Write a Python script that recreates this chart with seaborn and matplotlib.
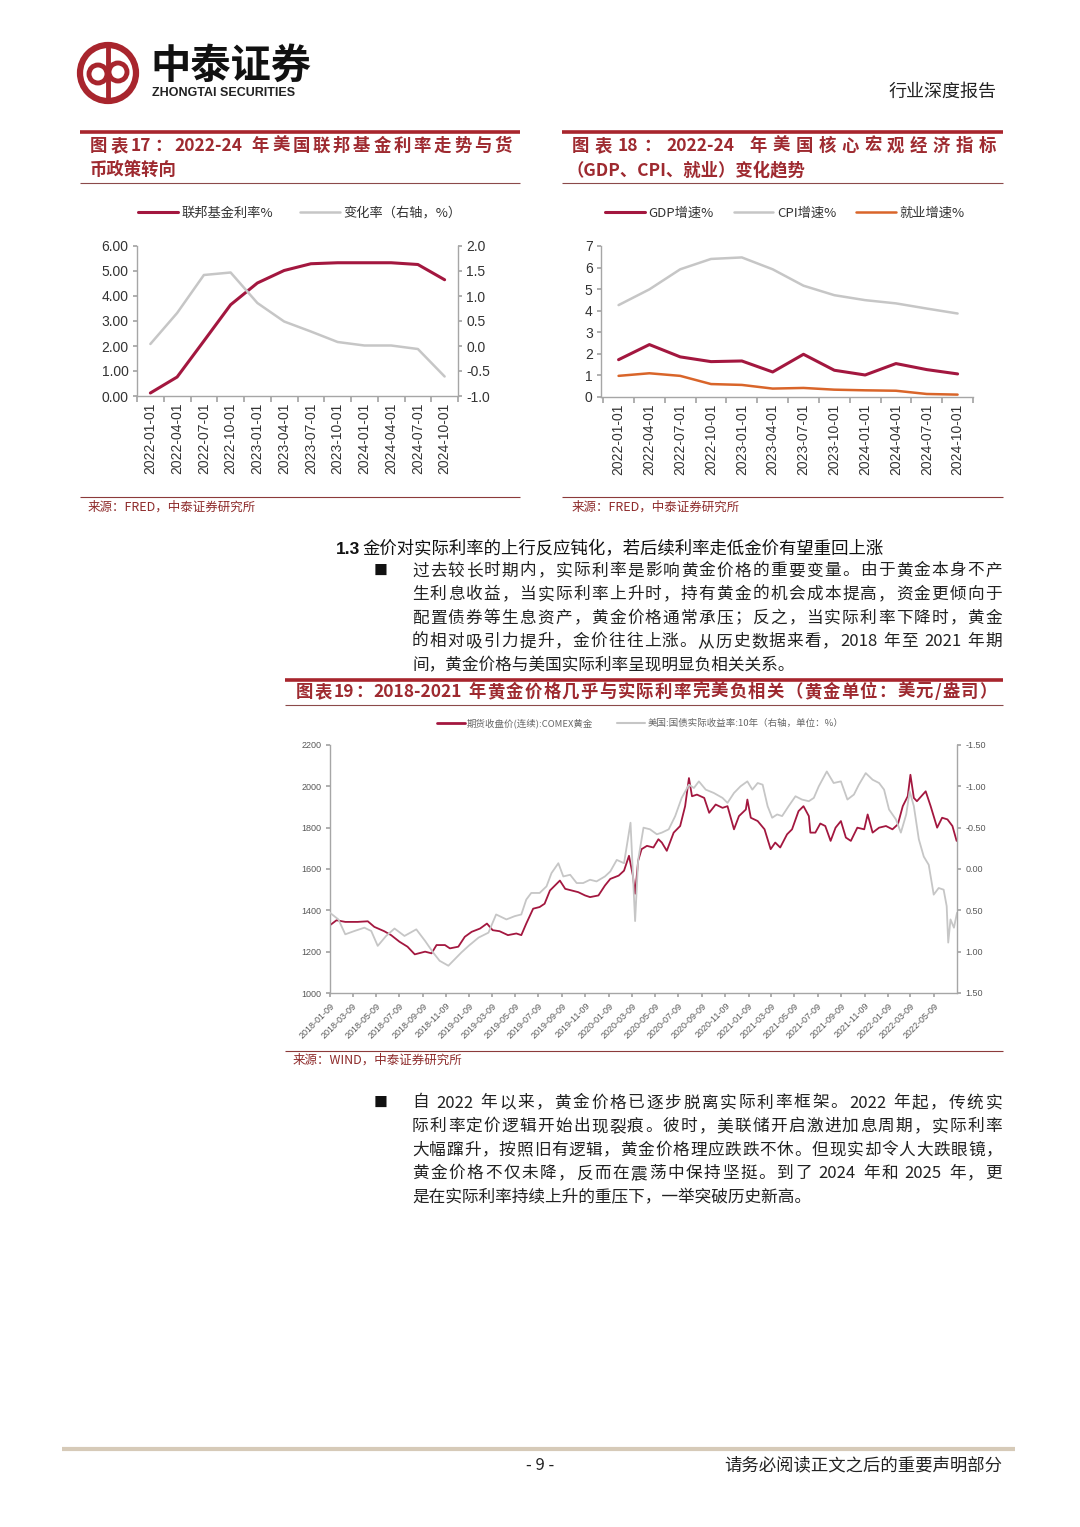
import re
import numpy as np
import pandas as pd
import matplotlib
matplotlib.use('Agg')
import matplotlib.pyplot as plt
from matplotlib.lines import Line2D
from matplotlib.patches import Circle
from matplotlib.ticker import FuncFormatter
import seaborn as sns

sns.set_theme(style='white')
plt.rcParams['font.family'] = ['Noto Sans CJK SC', 'DejaVu Sans']

W, H = 1080, 1527

# chart 17: fed funds rate and its change (right axis)
quarters = ['2022-01-01', '2022-04-01', '2022-07-01', '2022-10-01',
            '2023-01-01', '2023-04-01', '2023-07-01', '2023-10-01',
            '2024-01-01', '2024-04-01', '2024-07-01', '2024-10-01']
fed_rate = [0.12, 0.76, 2.20, 3.65, 4.52, 5.02, 5.29, 5.33, 5.33, 5.33, 5.26, 4.65]
fed_change = [0.04, 0.66, 1.42, 1.47, 0.86, 0.49, 0.29, 0.08, 0.01, 0.01, -0.06, -0.61]

# chart 18: GDP / CPI / employment growth
gdp_growth = [1.73, 2.43, 1.86, 1.64, 1.67, 1.16, 1.98, 1.24, 1.02, 1.55, 1.27, 1.07]
cpi_growth = [4.26, 4.99, 5.92, 6.40, 6.47, 5.92, 5.16, 4.72, 4.49, 4.34, 4.10, 3.87]
job_growth = [0.98, 1.10, 0.98, 0.60, 0.56, 0.39, 0.42, 0.34, 0.31, 0.29, 0.14, 0.11]

gold_dates = [
    '2018-01-09', '2018-01-26', '2018-02-18', '2018-03-22', '2018-04-18', '2018-05-05',
    '2018-05-31', '2018-06-18', '2018-07-10', '2018-07-31', '2018-08-19', '2018-09-15',
    '2018-10-02', '2018-10-15', '2018-11-06', '2018-11-19', '2018-12-11', '2018-12-28',
    '2019-01-15', '2019-02-06', '2019-02-24', '2019-03-11', '2019-03-29', '2019-04-20',
    '2019-05-12', '2019-05-25', '2019-06-07', '2019-06-25', '2019-07-12', '2019-07-25',
    '2019-08-08', '2019-09-03', '2019-09-17', '2019-10-04', '2019-10-21', '2019-11-08',
    '2019-11-21', '2019-12-13', '2019-12-30', '2020-01-13', '2020-02-04', '2020-02-18',
    '2020-03-02', '2020-03-12', '2020-03-18', '2020-03-26', '2020-04-04', '2020-04-18',
    '2020-05-05', '2020-05-18', '2020-05-27', '2020-06-09', '2020-06-27', '2020-07-14',
    '2020-07-27', '2020-08-06', '2020-08-14', '2020-08-27', '2020-09-15', '2020-09-28',
    '2020-10-15', '2020-11-02', '2020-11-15', '2020-12-02', '2020-12-15', '2021-01-02',
    '2021-01-06', '2021-01-15', '2021-02-02', '2021-02-20', '2021-03-08', '2021-03-20',
    '2021-04-02', '2021-04-20', '2021-05-03', '2021-05-20', '2021-06-02', '2021-06-16',
    '2021-06-20', '2021-07-03', '2021-07-16', '2021-07-29', '2021-08-12', '2021-08-25',
    '2021-09-08', '2021-09-21', '2021-10-04', '2021-10-21', '2021-11-08', '2021-11-17',
    '2021-11-30', '2021-12-17', '2022-01-04', '2022-01-21', '2022-02-04', '2022-02-17',
    '2022-03-02', '2022-03-09', '2022-03-18', '2022-03-26', '2022-04-18', '2022-05-01',
    '2022-05-18', '2022-05-31', '2022-06-14', '2022-06-27', '2022-07-08']
gold_price = [
    1328, 1352, 1344, 1344, 1347, 1320,
    1299, 1280, 1248, 1224, 1187, 1200,
    1192, 1232, 1232, 1216, 1224, 1272,
    1296, 1312, 1336, 1304, 1299, 1280,
    1288, 1280, 1336, 1408, 1416, 1432,
    1496, 1544, 1504, 1496, 1488, 1472,
    1464, 1472, 1520, 1552, 1568, 1592,
    1664, 1570, 1480, 1640, 1696, 1712,
    1704, 1744, 1728, 1688, 1776, 1808,
    1904, 2040, 1952, 1960, 1944, 1872,
    1912, 1896, 1904, 1792, 1856, 1888,
    1936, 1848, 1832, 1792, 1696, 1728,
    1704, 1768, 1792, 1880, 1904, 1856,
    1776, 1776, 1820, 1808, 1736, 1800,
    1832, 1752, 1736, 1800, 1792, 1864,
    1776, 1800, 1808, 1792, 1816, 1904,
    1952, 2056, 1944, 1928, 1976, 1904,
    1800, 1848, 1840, 1808, 1736]

ry_dates = [
    '2018-01-09', '2018-01-31', '2018-02-18', '2018-03-14', '2018-04-09', '2018-04-27',
    '2018-05-14', '2018-06-05', '2018-06-27', '2018-07-23', '2018-08-23', '2018-09-15',
    '2018-10-06', '2018-10-23', '2018-11-15', '2018-12-02', '2018-12-19', '2019-01-07',
    '2019-02-02', '2019-02-28', '2019-03-20', '2019-04-16', '2019-05-08', '2019-05-25',
    '2019-06-07', '2019-06-20', '2019-07-12', '2019-07-30', '2019-08-12', '2019-08-30',
    '2019-09-12', '2019-09-30', '2019-10-17', '2019-11-03', '2019-11-21', '2019-12-08',
    '2019-12-30', '2020-01-13', '2020-01-30', '2020-02-18', '2020-03-06', '2020-03-18',
    '2020-03-26', '2020-04-09', '2020-04-26', '2020-05-14', '2020-05-27', '2020-06-14',
    '2020-07-01', '2020-07-18', '2020-08-06', '2020-08-19', '2020-09-01', '2020-09-19',
    '2020-10-10', '2020-11-02', '2020-11-15', '2020-12-02', '2020-12-19', '2021-01-06',
    '2021-01-19', '2021-02-02', '2021-02-15', '2021-02-28', '2021-03-12', '2021-03-25',
    '2021-04-07', '2021-04-24', '2021-05-12', '2021-05-29', '2021-06-16', '2021-06-29',
    '2021-07-12', '2021-08-02', '2021-08-20', '2021-09-08', '2021-09-25', '2021-10-12',
    '2021-10-25', '2021-11-12', '2021-11-30', '2021-12-17', '2021-12-30', '2022-01-12',
    '2022-01-30', '2022-02-12', '2022-02-26', '2022-03-07', '2022-03-18', '2022-03-31',
    '2022-04-13', '2022-04-26', '2022-05-09', '2022-05-22', '2022-06-04', '2022-06-12',
    '2022-06-16', '2022-06-22', '2022-07-01', '2022-07-09']
real_yield = [
    0.53, 0.61, 0.79, 0.75, 0.71, 0.75,
    0.93, 0.81, 0.72, 0.81, 0.73, 0.87,
    1.01, 1.11, 1.17, 1.09, 1.01, 0.93,
    0.83, 0.77, 0.55, 0.61, 0.57, 0.55,
    0.37, 0.29, 0.29, 0.21, 0.05, -0.07,
    0.09, 0.07, 0.17, 0.17, 0.13, 0.15,
    0.09, 0.03, -0.11, -0.07, -0.56, 0.63,
    -0.11, -0.50, -0.48, -0.42, -0.44, -0.48,
    -0.64, -0.86, -1.02, -0.98, -1.06, -0.96,
    -0.92, -0.86, -0.80, -0.92, -1.00, -1.06,
    -0.96, -1.04, -1.02, -0.76, -0.62, -0.66,
    -0.64, -0.76, -0.88, -0.84, -0.82, -0.86,
    -1.00, -1.18, -1.04, -1.06, -0.84, -0.90,
    -1.02, -1.16, -1.08, -1.04, -0.96, -0.72,
    -0.60, -0.44, -0.66, -0.94, -0.76, -0.36,
    -0.15, -0.05, 0.31, 0.23, 0.25, 0.45,
    0.89, 0.61, 0.71, 0.53]

RED = '#A3173F'
GRAY = '#C6C6C6'
ORANGE = '#D9652A'
HEAD = '#A8252D'
TITLE = '#9E2A30'
AXIS = '#A6A6A6'
TXT = '#222222'

fig = plt.figure(figsize=(W / 100, H / 100), dpi=100)
page = fig.add_axes([0, 0, 1, 1])
page.set_xlim(0, W)
page.set_ylim(H, 0)
page.axis('off')
renderer = fig.canvas.get_renderer()


def px_axes(x0, y0, x1, y1):
    return fig.add_axes([x0 / W, 1 - y1 / H, (x1 - x0) / W, (y1 - y0) / H])


def put_line(s, x0, y, x1=None, **kw):
    # x1 given -> spread tokens so the line fills x0..x1 (justified text)
    kw.setdefault('color', TXT)
    kw.setdefault('fontsize', 12)
    if x1 is None:
        page.text(x0, y, s, ha='left', va='center', **kw)
        return
    toks = re.findall(r'[0-9A-Za-z.\-/]+|.', s)
    arts = [page.text(0, y, t, ha='left', va='center', **kw) for t in toks]
    widths = [a.get_window_extent(renderer).width for a in arts]
    gap = (x1 - x0 - sum(widths)) / max(len(toks) - 1, 1)
    x = x0
    for a, w in zip(arts, widths):
        a.set_x(x)
        x += w + gap


def hline(x0, x1, y, color=HEAD, lw=2.0):
    page.plot([x0, x1], [y, y], color=color, lw=lw, solid_capstyle='butt')


def style_axes(ax, sides=('left', 'bottom')):
    for s in ['left', 'right', 'top', 'bottom']:
        ax.spines[s].set_visible(s in sides)
        ax.spines[s].set_color(AXIS)
        ax.spines[s].set_linewidth(1.0)
    ax.set_xlabel('')
    ax.set_ylabel('')
    ax.grid(False)
    ax.patch.set_alpha(0)


# ---- header / logo
page.add_patch(Circle((108, 73), 28, fill=False, ec=HEAD, lw=4.5))
page.add_patch(Circle((98, 74), 9, fill=False, ec=HEAD, lw=3.5))
page.add_patch(Circle((118, 72), 9, fill=False, ec=HEAD, lw=3.5))
page.plot([108, 108], [47, 100], color=HEAD, lw=3.5)
page.text(150, 66, '中泰证券', fontsize=29, fontweight='bold', color='#111111',
          ha='left', va='center')
page.text(152, 93, 'ZHONGTAI SECURITIES', fontsize=9, fontweight='bold',
          family=['Liberation Sans', 'DejaVu Sans'], color='#222222', ha='left', va='center')
page.text(997, 92, '行业深度报告', fontsize=13, color=TXT, ha='right', va='center')

# ---- chart 17 / 18 title blocks
for x0, x1 in [(80, 520), (562, 1003)]:
    hline(x0, x1, 132, lw=2.6)
    hline(x0, x1, 183, color='#8C4A4A', lw=0.8)
    hline(x0, x1, 497, color='#8C3A3A', lw=0.8)

tkw = dict(color=TITLE, fontsize=12.5, fontweight='bold')
put_line('图表17：2022-24 年美国联邦基金利率走势与货', 90, 146, 512, **tkw)
put_line('币政策转向', 90, 170, **tkw)
put_line('图表18：2022-24 年美国核心宏观经济指标', 572, 146, 996, **tkw)
put_line('（GDP、CPI、就业）变化趋势', 566, 170, **tkw)

skw = dict(color='#8E2B2B', fontsize=9)
put_line('来源：FRED，中泰证券研究所', 88, 507, **skw)
put_line('来源：FRED，中泰证券研究所', 572, 507, **skw)

# ---- chart 17
df17 = pd.DataFrame({'date': quarters, 'rate': fed_rate, 'chg': fed_change})
ax17 = px_axes(137, 246, 458, 396)
sns.lineplot(data=df17, x='date', y='rate', ax=ax17, color=RED, lw=2.2, sort=False)
ax17b = ax17.twinx()
sns.lineplot(data=df17, x='date', y='chg', ax=ax17b, color=GRAY, lw=1.8, sort=False)
ax17.set_xlim(-0.5, len(quarters) - 0.5)
ax17.set_ylim(0, 6)
ax17b.set_ylim(-1, 2)
ax17.set_yticks(np.arange(0, 7, 1))
ax17.yaxis.set_major_formatter(FuncFormatter(lambda v, p: f'{v:.2f}'))
ax17b.set_yticks(np.arange(-1, 2.01, 0.5))
ax17b.yaxis.set_major_formatter(FuncFormatter(lambda v, p: f'{v:.1f}'))
style_axes(ax17, ('left', 'bottom'))
style_axes(ax17b, ('right',))

# ---- chart 18
df18 = pd.DataFrame({'date': quarters, 'gdp': gdp_growth, 'cpi': cpi_growth, 'job': job_growth})
ax18 = px_axes(601, 246, 973, 397)
sns.lineplot(data=df18, x='date', y='cpi', ax=ax18, color=GRAY, lw=1.8, sort=False)
sns.lineplot(data=df18, x='date', y='gdp', ax=ax18, color=RED, lw=2.2, sort=False)
sns.lineplot(data=df18, x='date', y='job', ax=ax18, color=ORANGE, lw=1.8, sort=False)
ax18.set_xlim(-0.57, len(quarters) - 0.5)
ax18.set_ylim(0, 7)
ax18.set_yticks(np.arange(0, 8, 1))
style_axes(ax18, ('left', 'bottom'))

for ax in [ax17, ax18]:
    n = len(quarters)
    ax.set_xticks(np.arange(n + 1) - 0.5)
    ax.set_xticklabels([])
    ax.set_xticks(np.arange(n), minor=True)
    ax.set_xticklabels(quarters, minor=True, rotation=90)
    ax.tick_params(axis='x', which='major', length=4, color=AXIS, direction='out', bottom=True)
    ax.tick_params(axis='x', which='minor', length=0, pad=5, labelsize=10, labelcolor='#333333')
    ax.tick_params(axis='y', length=3, color=AXIS, direction='out', left=True,
                   labelsize=10, labelcolor='#333333', pad=3)
    for lab in ax.get_xticklabels(minor=True):
        lab.set_family(['Liberation Sans', 'DejaVu Sans'])
    for lab in ax.get_yticklabels():
        lab.set_family(['Liberation Sans', 'DejaVu Sans'])
ax17b.tick_params(axis='y', length=3, color=AXIS, direction='out', right=True,
                  labelsize=10, labelcolor='#333333', pad=3)
for lab in ax17b.get_yticklabels():
    lab.set_family(['Liberation Sans', 'DejaVu Sans'])

lkw = dict(loc='center', frameon=False, fontsize=9.5, handlelength=3.0,
           handletextpad=0.3, labelcolor='#333333')
fig.legend([Line2D([], [], color=RED, lw=2.2), Line2D([], [], color=GRAY, lw=1.8)],
           ['联邦基金利率%', '变化率（右轴，%）'], ncol=2, columnspacing=2.0,
           bbox_to_anchor=(300 / W, 1 - 213 / H), **lkw)
fig.legend([Line2D([], [], color=RED, lw=2.2), Line2D([], [], color=GRAY, lw=1.8),
            Line2D([], [], color=ORANGE, lw=1.8)],
           ['GDP增速%', 'CPI增速%', '就业增速%'], ncol=3, columnspacing=1.5,
           bbox_to_anchor=(785 / W, 1 - 213 / H), **lkw)

# ---- section text
page.text(336, 549, '1.3', fontsize=12.5, fontweight='bold', color='#111111',
          ha='left', va='center', family=['Liberation Sans', 'DejaVu Sans'])
put_line('金价对实际利率的上行反应钝化，若后续利率走低金价有望重回上涨', 362, 549,
         fontsize=12.5, color='#111111')

body1 = ['过去较长时期内，实际利率是影响黄金价格的重要变量。由于黄金本身不产',
         '生利息收益，当实际利率上升时，持有黄金的机会成本提高，资金更倾向于',
         '配置债券等生息资产，黄金价格通常承压；反之，当实际利率下降时，黄金',
         '的相对吸引力提升，金价往往上涨。从历史数据来看，2018 年至 2021 年期',
         '间，黄金价格与美国实际利率呈现明显负相关关系。']
body2 = ['自 2022 年以来，黄金价格已逐步脱离实际利率框架。2022 年起，传统实',
         '际利率定价逻辑开始出现裂痕。彼时，美联储开启激进加息周期，实际利率',
         '大幅蹿升，按照旧有逻辑，黄金价格理应跌跌不休。但现实却令人大跌眼镜，',
         '黄金价格不仅未降，反而在震荡中保持坚挺。到了 2024 年和 2025 年，更',
         '是在实际利率持续上升的重压下，一举突破历史新高。']
for y0, lines in [(571, body1), (1103, body2)]:
    page.text(381, y0, '■', fontsize=10, color='#111111', ha='center', va='center')
    for i, s in enumerate(lines):
        y = y0 + i * 23.6
        if i < len(lines) - 1:
            put_line(s, 412, y, 1002)
        else:
            put_line(s, 412, y)

# ---- chart 19 title block
hline(285, 1003, 680, lw=2.6)
hline(285, 1003, 705, color='#8C4A4A', lw=0.8)
put_line('图表19：2018-2021 年黄金价格几乎与实际利率完美负相关（黄金单位：美元/盎司）',
         296, 692, 997, **tkw)
hline(285, 1003, 1051, color='#8C3A3A', lw=0.8)
put_line('来源：WIND，中泰证券研究所', 293, 1060, **skw)

# ---- chart 19
gold_df = pd.DataFrame({'date': pd.to_datetime(gold_dates), 'price': gold_price})
ry_df = pd.DataFrame({'date': pd.to_datetime(ry_dates), 'ry': real_yield})
ax19 = px_axes(330, 745, 957, 993)
sns.lineplot(data=gold_df, x='date', y='price', ax=ax19, color=RED, lw=1.3)
ax19b = ax19.twinx()
sns.lineplot(data=ry_df, x='date', y='ry', ax=ax19b, color=GRAY, lw=1.3)
ax19.set_xlim(pd.Timestamp('2018-01-09'), pd.Timestamp('2022-07-09'))
ax19.set_ylim(1000, 2200)
ax19.set_yticks(np.arange(1000, 2201, 200))
ax19b.set_ylim(1.5, -1.5)
ax19b.set_yticks(np.arange(-1.5, 1.51, 0.5))
ax19b.yaxis.set_major_formatter(FuncFormatter(lambda v, p: f'{v:.2f}'))
ticks19 = pd.date_range('2018-01-09', '2022-05-09', freq=pd.DateOffset(months=2))
ax19.set_xticks(ticks19)
ax19.set_xticklabels([d.strftime('%Y-%m-%d') for d in ticks19], rotation=45,
                     ha='right', rotation_mode='anchor')
style_axes(ax19, ('left', 'bottom'))
style_axes(ax19b, ('right',))
ax19.tick_params(axis='x', length=3, color=AXIS, direction='out', bottom=True,
                 labelsize=6.5, labelcolor='#595959', pad=3)
ax19.tick_params(axis='y', length=3, color=AXIS, direction='out', left=True,
                 labelsize=6.5, labelcolor='#595959', pad=3)
ax19b.tick_params(axis='y', length=3, color=AXIS, direction='out', right=True,
                  labelsize=6.5, labelcolor='#595959', pad=3)
for lab in ax19.get_xticklabels() + ax19.get_yticklabels() + ax19b.get_yticklabels():
    lab.set_family(['Liberation Sans', 'DejaVu Sans'])

fig.legend([Line2D([], [], color=RED, lw=2.0), Line2D([], [], color=GRAY, lw=1.5)],
           ['期货收盘价(连续):COMEX黄金', '美国:国债实际收益率:10年（右轴，单位：%）'],
           loc='center', ncol=2, frameon=False, fontsize=6.8, handlelength=3.0,
           handletextpad=0.2, columnspacing=2.5, labelcolor='#666666',
           bbox_to_anchor=(640 / W, 1 - 723 / H))

# ---- footer
hline(62, 1015, 1449, color='#D6CAB8', lw=3)
page.text(540, 1465, '- 9 -', fontsize=12, color=TXT, ha='center', va='center')
page.text(1002, 1465, '请务必阅读正文之后的重要声明部分', fontsize=12.5, color=TXT,
          ha='right', va='center')

fig.savefig('out.png', dpi=100)
